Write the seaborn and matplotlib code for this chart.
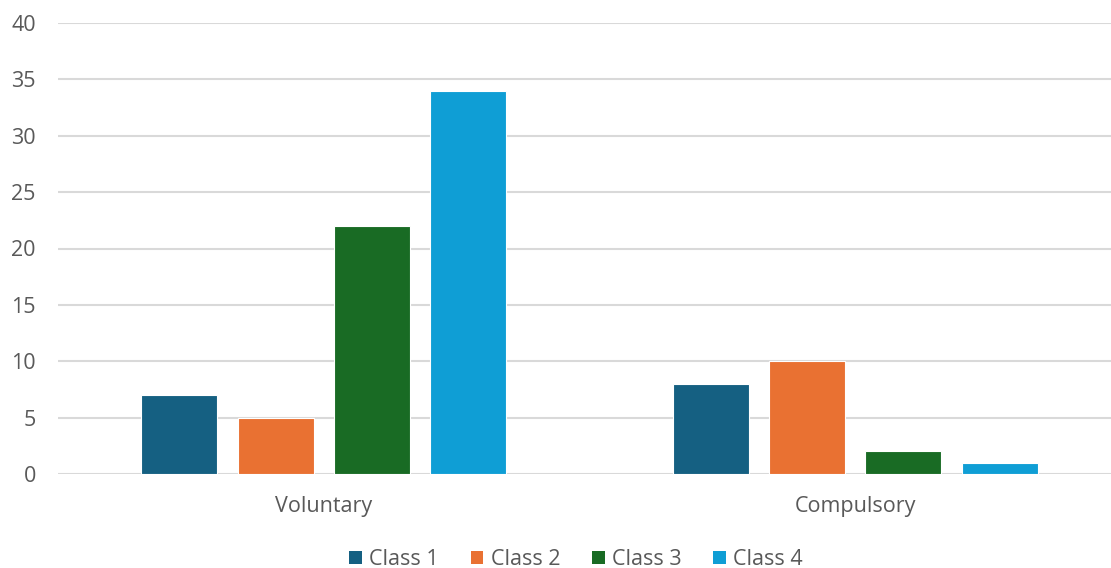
import matplotlib
matplotlib.use("Agg")
import matplotlib.pyplot as plt
import seaborn as sns
import pandas as pd
from matplotlib.patches import Patch

categories = ["Voluntary", "Compulsory"]
series_names = ["Class 1", "Class 2", "Class 3", "Class 4"]
class1 = [7, 8]
class2 = [5, 10]
class3 = [22, 2]
class4 = [34, 1]
y_ticks = [0, 5, 10, 15, 20, 25, 30, 35, 40]

colors = ["#156082", "#E97132", "#196B24", "#0F9ED5"]
text_color = "#595959"

rows = []
for name, vals in zip(series_names, [class1, class2, class3, class4]):
    for cat, v in zip(categories, vals):
        rows.append({"category": cat, "series": name, "value": v})
df = pd.DataFrame(rows)

sns.set_theme(style="white")
plt.rcParams["font.family"] = ["Open Sans", "DejaVu Sans"]

fig = plt.figure(figsize=(11.11, 5.68), dpi=100)
ax = fig.add_axes([58 / 1111, 1 - 474 / 568, (1121 - 58) / 1111, (474 - 23) / 568])

sns.barplot(data=df, x="category", y="value", hue="series", order=categories,
            hue_order=series_names, palette=colors, width=0.726, gap=0.212,
            edgecolor="white", linewidth=0.8, saturation=1, legend=False, ax=ax)

ax.set_xlim(-0.5, 1.5)
ax.set_ylim(0, 40)
ax.set_yticks(y_ticks)
ax.set_yticklabels([str(t) for t in y_ticks])
ax.yaxis.grid(True, color="#D9D9D9", linewidth=1.5)
ax.set_axisbelow(True)
for s in ax.spines.values():
    s.set_visible(False)
ax.tick_params(axis="y", length=0, labelsize=15.5, labelcolor=text_color, pad=16)
ax.tick_params(axis="x", length=0, labelsize=15.5, labelcolor=text_color, pad=16)
ax.set_xlabel("")
ax.set_ylabel("")

handles = [Patch(facecolor=c, edgecolor="none") for c in colors]
fig.legend(handles, series_names, loc="center", bbox_to_anchor=(0.5185, 1 - 559.5 / 568),
           ncol=4, frameon=False, fontsize=15.5, labelcolor=text_color,
           handlelength=0.6, handleheight=0.6, handletextpad=0.33, columnspacing=1.48)

fig.savefig("out.png", dpi=100)
